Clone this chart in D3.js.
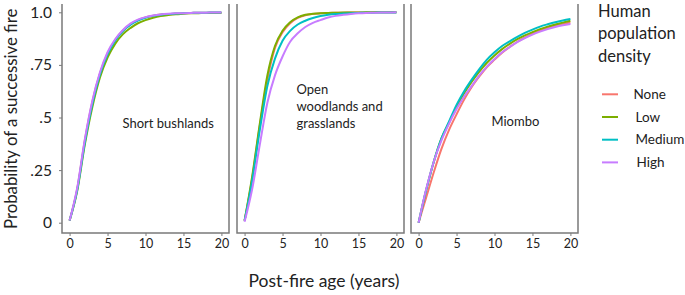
<!DOCTYPE html>
<html>
<head>
<meta charset="utf-8">
<script src="https://cdn.jsdelivr.net/npm/d3@7"></script>
<style>
  body { margin: 0; background: #fff; }
  text { font-family: Lato, 'Open Sans', sans-serif; fill: #222; }
</style>
</head>
<body>
<div class="chart"></div>
<script>
// x values (post-fire age, years)
const years = [0, 1, 2, 3, 4, 5, 6, 7, 8, 9, 10, 11, 12, 13, 14, 15, 16, 17, 18, 19, 20]

const densities = ['None', 'Low', 'Medium', 'High']
const densityColors = ['#F8766D', '#7CAE00', '#00BFC4', '#C77CFF']
const habitatLabels = [['Short bushlands'], ['Open', 'woodlands and', 'grasslands'], ['Miombo']]
const yTicks = [0, 0.25, 0.5, 0.75, 1]
const yTickLabels = ['0', '.25', '.5', '.75', '1.0']
const xTicks = [0, 5, 10, 15, 20]

// probability curves, one row per density (None, Low, Medium, High)
const shortBushlands = [
    [0.01, 0.16, 0.39, 0.575, 0.71, 0.805, 0.868, 0.912, 0.943, 0.963, 0.976, 0.984, 0.989, 0.992, 0.994, 0.996, 0.997, 0.998, 0.998, 0.999, 0.999],
    [0.01, 0.15, 0.37, 0.55, 0.69, 0.785, 0.85, 0.895, 0.925, 0.948, 0.963, 0.974, 0.982, 0.987, 0.991, 0.993, 0.995, 0.996, 0.997, 0.997, 0.997],
    [0.01, 0.155, 0.38, 0.565, 0.705, 0.8, 0.865, 0.91, 0.94, 0.96, 0.974, 0.983, 0.988, 0.992, 0.994, 0.996, 0.997, 0.998, 0.998, 0.999, 0.999],
    [0.01, 0.165, 0.395, 0.58, 0.715, 0.81, 0.872, 0.915, 0.946, 0.965, 0.977, 0.985, 0.99, 0.993, 0.995, 0.996, 0.997, 0.998, 0.998, 0.999, 0.999]
]
const openWoodlands = [
    [0.01, 0.21, 0.46, 0.68, 0.83, 0.905, 0.948, 0.973, 0.986, 0.992, 0.995, 0.997, 0.998, 0.998, 0.999, 0.999, 0.999, 1, 1, 1, 1],
    [0.01, 0.22, 0.47, 0.70, 0.84, 0.912, 0.953, 0.976, 0.988, 0.993, 0.996, 0.997, 0.998, 0.999, 0.999, 0.999, 1, 1, 1, 1, 1],
    [0.01, 0.2, 0.44, 0.65, 0.78, 0.865, 0.912, 0.942, 0.96, 0.973, 0.982, 0.988, 0.992, 0.994, 0.996, 0.997, 0.998, 0.998, 0.999, 0.999, 0.999],
    [0.005, 0.16, 0.37, 0.57, 0.70, 0.79, 0.86, 0.90, 0.93, 0.95, 0.963, 0.975, 0.983, 0.988, 0.992, 0.995, 0.997, 0.998, 0.999, 0.999, 1]
]
const miombo = [
    [0, 0.12, 0.24, 0.35, 0.44, 0.515, 0.585, 0.645, 0.695, 0.74, 0.775, 0.808, 0.835, 0.86, 0.88, 0.898, 0.913, 0.926, 0.937, 0.945, 0.952],
    [0, 0.155, 0.29, 0.40, 0.475, 0.55, 0.615, 0.67, 0.718, 0.76, 0.795, 0.825, 0.85, 0.872, 0.89, 0.906, 0.92, 0.932, 0.942, 0.951, 0.96],
    [0, 0.155, 0.29, 0.40, 0.48, 0.56, 0.625, 0.68, 0.73, 0.775, 0.81, 0.84, 0.862, 0.883, 0.902, 0.918, 0.932, 0.943, 0.953, 0.961, 0.968],
    [0, 0.16, 0.29, 0.39, 0.47, 0.54, 0.60, 0.65, 0.70, 0.742, 0.778, 0.81, 0.835, 0.858, 0.877, 0.894, 0.908, 0.92, 0.93, 0.938, 0.944]
]
const panels = [shortBushlands, openWoodlands, miombo]

const width = 685
const height = 295
const panelLeft = [62, 237, 411]
const panelWidth = 167
const panelTop = 4
const panelBottom = 233
const axisColor = '#7a7a7a'

const svg = d3.select('.chart')
    .append('svg')
    .attr('width', width)
    .attr('height', height)

const yScale = d3.scaleLinear()
    .domain([0, 1])
    .range([222.7, 12.3])

const colors = d3.scaleOrdinal()
    .domain(densities)
    .range(densityColors)

panels.forEach((panel, p) => {
    const left = panelLeft[p]
    const xScale = d3.scaleLinear()
        .domain([-1, 21])
        .range([left, left + panelWidth])

    const g = svg.append('g')

    // panel frame: both sides and bottom, no top
    g.append('path')
        .attr('d', `M${left},${panelTop}V${panelBottom}H${left + panelWidth}V${panelTop}`)
        .attr('fill', 'none')
        .attr('stroke', axisColor)
        .attr('stroke-width', 1.5)

    // x axis
    const xAxis = g.append('g')
        .attr('transform', `translate(0, ${panelBottom})`)
        .call(d3.axisBottom(xScale).tickValues(xTicks).tickSize(3).tickPadding(3))
    xAxis.select('.domain').remove()
    xAxis.selectAll('line').attr('stroke', axisColor)
    xAxis.selectAll('text')
        .style('font-family', 'Lato, sans-serif')
        .style('font-size', '12.5px')
        .attr('fill', '#222')

    // curves
    const line = d3.line()
        .x((d, i) => xScale(years[i]))
        .y((d) => yScale(d))
        .curve(d3.curveMonotoneX)

    g.selectAll('path.curve')
        .data(panel)
        .enter()
        .append('path')
            .attr('class', 'curve')
            .attr('d', (d) => line(d))
            .attr('fill', 'none')
            .attr('stroke', (d, i) => colors(densities[i]))
            .attr('stroke-width', 2)

    // habitat label
    const labelPos = [[122.5, 128], [296.5, 94], [491.5, 125.5]][p]
    g.append('text')
        .attr('x', labelPos[0])
        .attr('y', labelPos[1])
        .style('font-size', '13px')
        .selectAll('tspan')
        .data(habitatLabels[p])
        .enter()
        .append('tspan')
            .attr('x', labelPos[0])
            .attr('dy', (d, i) => i ? 17 : 0)
            .text((d) => d)
})

// y axis on the first panel
const yAxis = svg.append('g')
    .attr('transform', `translate(${panelLeft[0]}, 0)`)
    .call(d3.axisLeft(yScale)
        .tickValues(yTicks)
        .tickFormat((d, i) => yTickLabels[i])
        .tickSize(3)
        .tickPadding(7))
yAxis.select('.domain').remove()
yAxis.selectAll('line').attr('stroke', axisColor)
yAxis.selectAll('text')
    .style('font-family', 'Lato, sans-serif')
    .style('font-size', '15.5px')
    .attr('fill', '#222')

// axis titles
svg.append('text')
    .attr('transform', 'rotate(-90)')
    .attr('x', -229)
    .attr('y', 17)
    .style('font-size', '16.8px')
    .text('Probability of a successive fire')

svg.append('text')
    .attr('x', 324)
    .attr('y', 287)
    .style('text-anchor', 'middle')
    .style('font-size', '17.5px')
    .text('Post-fire age (years)')

// legend
svg.append('text')
    .attr('x', 598)
    .attr('y', 16.5)
    .style('font-size', '16.5px')
    .selectAll('tspan')
    .data(['Human', 'population', 'density'])
    .enter()
    .append('tspan')
        .attr('x', 598)
        .attr('dy', (d, i) => i ? 22.5 : 0)
        .text((d) => d)

svg.selectAll('line.legend')
    .data(densities)
    .enter()
    .append('line')
        .attr('class', 'legend')
        .attr('x1', 602)
        .attr('x2', 618)
        .attr('y1', (d, i) => 94.3 + i * 22.7)
        .attr('y2', (d, i) => 94.3 + i * 22.7)
        .attr('stroke', (d) => colors(d))
        .attr('stroke-width', 2)

svg.selectAll('text.legend')
    .data(densities)
    .enter()
    .append('text')
        .attr('class', 'legend')
        .attr('x', (d, i) => [633.5, 635.5, 635.5, 636.5][i])
        .attr('y', (d, i) => 94.3 + i * 22.7)
        .attr('dy', '0.35em')
        .style('font-size', '13.5px')
        .text((d) => d)
</script>
</body>
</html>
